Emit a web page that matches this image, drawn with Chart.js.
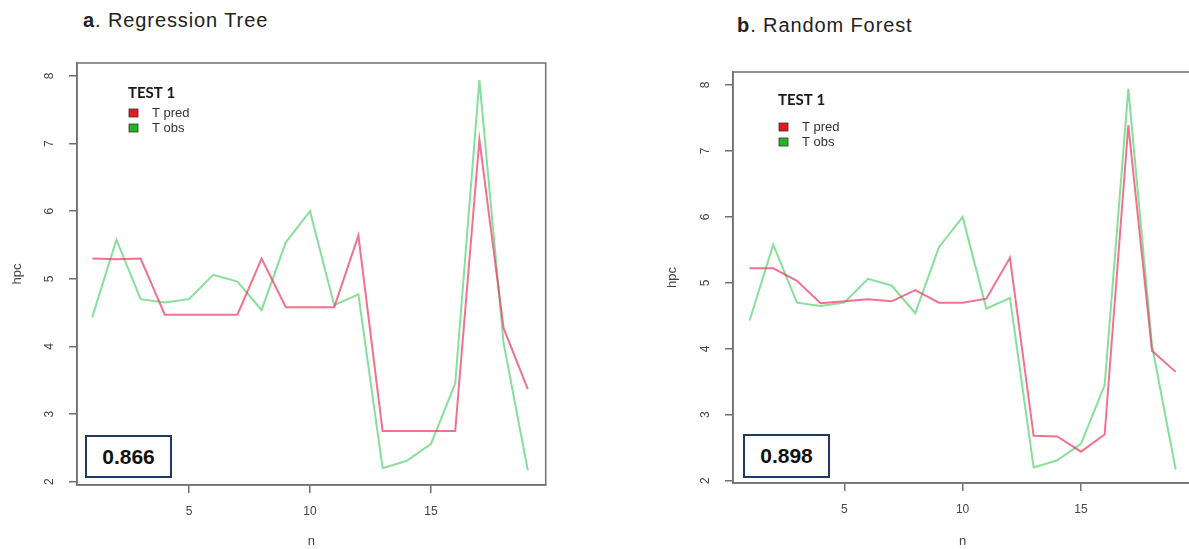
<!DOCTYPE html>
<html><head><meta charset="utf-8">
<script src="https://cdn.jsdelivr.net/npm/chart.js@4.4.1/dist/chart.umd.min.js"></script>
<style>
html,body{margin:0;padding:0;background:#fff;overflow:hidden;width:1189px;height:549px;position:relative}
.cw{position:absolute;top:0}
.title{position:absolute;font-family:"Liberation Sans",Arial,sans-serif;font-size:20px;line-height:20px;color:#222;white-space:nowrap;letter-spacing:0.9px}
.r2{position:absolute;border:2px solid #1f3864;font-family:"Liberation Sans",Arial,sans-serif;font-weight:bold;font-size:21px;color:#111;display:flex;align-items:center;justify-content:center;box-sizing:border-box;background:#fff}
</style></head><body>
<div class="title" style="left:83px;top:10px"><b>a</b>. Regression Tree</div>
<div class="title" style="left:737px;top:15px"><b>b</b>. Random Forest</div>
<div class="cw" style="left:0px;width:590px;height:549px"><canvas id="cA" width="590" height="549"></canvas></div>
<div class="cw" style="left:650px;width:600px;height:549px"><canvas id="cB" width="600" height="549"></canvas></div>
<div class="r2" style="left:85px;top:435px;width:87px;height:43px">0.866</div>
<div class="r2" style="left:743px;top:434px;width:87px;height:44px">0.898</div>
<script>
// ---- data ----
const n = [1,2,3,4,5,6,7,8,9,10,11,12,13,14,15,16,17,18,19];
const tObs = [4.43,5.58,4.70,4.65,4.70,5.06,4.96,4.54,5.54,6.00,4.61,4.77,2.20,2.31,2.56,3.45,7.94,4.05,2.17];
const tPredTree = [5.30,5.29,5.30,4.47,4.47,4.47,4.47,5.30,4.58,4.58,4.58,5.64,2.75,2.75,2.75,2.75,7.06,4.27,3.37];
const tPredForest = [5.22,5.22,5.03,4.69,4.72,4.75,4.72,4.89,4.70,4.70,4.76,5.38,2.68,2.67,2.44,2.70,7.39,3.97,3.65];
const xTickValues = [5,10,15];
const yTickValues = [2,3,4,5,6,7,8];
const legendTitle = 'TEST 1';
const seriesNames = ['T pred','T obs'];

const AX = '#707070';
const FONT = '"Liberation Sans", Arial, sans-serif';

function pts(arr){ return n.map((v,i)=>({x:v,y:arr[i]})); }

const boxPlugin = {
  id:'boxPlugin',
  afterDraw(chart){
    const {ctx, chartArea:ca} = chart;
    ctx.save();
    ctx.strokeStyle = AX; ctx.lineWidth = 1.5;
    ctx.strokeRect(ca.left, ca.top, ca.right-ca.left, ca.bottom-ca.top);
    ctx.restore();
  }
};
const testLegend = {
  id:'testLegend',
  afterDraw(chart, args, o){
    const {ctx, chartArea:ca} = chart;
    ctx.save();
    ctx.textBaseline = 'middle'; ctx.textAlign = 'left';
    ctx.fillStyle = '#1a1a1a';
    ctx.font = 'bold 15px Lato, "Open Sans", sans-serif';
    ctx.fillText(o.title, ca.left+o.dx, ca.top+o.dy);
    chart.data.datasets.forEach((ds,i)=>{
      const y = ca.top + o.dy + o.gap + i*o.step;
      ctx.fillStyle = ds.legendColor;
      ctx.fillRect(ca.left+o.dx+1, y-4, 9, 8);
      ctx.strokeStyle = '#333'; ctx.lineWidth = 0.8;
      ctx.strokeRect(ca.left+o.dx+1, y-4, 9, 8);
      ctx.fillStyle = '#333';
      ctx.font = '13px ' + FONT;
      ctx.fillText(ds.label, ca.left+o.dx+o.tx, y);
    });
    ctx.restore();
  }
};

function makeChart(id, pred, c){
  return new Chart(document.getElementById(id), {
    type:'line',
    data:{datasets:[
      {label:seriesNames[0], data:pts(pred), borderColor:'rgba(236,60,100,0.72)', legendColor:'#e41a1c', borderWidth:2, pointRadius:0, tension:0, order:0},
      {label:seriesNames[1], data:pts(tObs), borderColor:'rgba(60,205,90,0.62)', legendColor:'#22b422', borderWidth:2, pointRadius:0, tension:0, order:1}
    ]},
    options:{
      responsive:false, animation:false, devicePixelRatio:1,
      layout:{padding:{left:0, top:c.top, right:c.right, bottom:0}},
      plugins:{legend:{display:false}, tooltip:{enabled:false},
        testLegend:{title:legendTitle, dx:c.ldx, dy:c.ldy, gap:c.lgap, step:15, tx:24}},
      scales:{
        x:{type:'linear', min:c.xmin, max:c.xmax,
          afterBuildTicks:s=>{ s.ticks = xTickValues.map(v=>({value:v})); },
          afterFit:s=>{ s.height = c.xh; },
          grid:{drawOnChartArea:false, drawTicks:true, tickLength:8, color:AX, lineWidth:1.5},
          border:{display:true, color:AX, width:1.5},
          ticks:{font:{family:FONT, size:12}, color:'#444', padding:11, autoSkip:false, minRotation:0, maxRotation:0},
          title:{display:true, text:'n', font:{family:FONT, size:13}, color:'#444', padding:{top:0, bottom:c.ntp}}
        },
        y:{type:'linear', min:c.ymin, max:c.ymax,
          afterBuildTicks:s=>{ s.ticks = yTickValues.map(v=>({value:v})); },
          afterFit:s=>{ s.width = c.yw; },
          grid:{drawOnChartArea:false, drawTicks:true, tickLength:8, color:AX, lineWidth:1.5},
          border:{display:true, color:AX, width:1.5},
          ticks:{font:{family:FONT, size:12}, color:'#444', padding:15.5, autoSkip:false, minRotation:90, maxRotation:90, crossAlign:'center'},
          title:{display:true, text:'hpc', font:{family:FONT, size:13}, color:'#444', padding:{top:c.htp, bottom:0}}
        }
      }
    },
    plugins:[boxPlugin, testLegend]
  });
}

makeChart('cA', tPredTree, {top:63, right:44.3, xh:64, yw:77, xmin:0.372, xmax:19.74, ymin:1.951, ymax:8.192, ldx:51, ldy:30, lgap:20, ntp:0, htp:10});
makeChart('cB', tPredForest, {top:72, right:58, xh:66, yw:83, xmin:0.30, xmax:19.69, ymin:1.965, ymax:8.197, ldx:45, ldy:28, lgap:27, ntp:0, htp:15});
</script>
</body></html>
